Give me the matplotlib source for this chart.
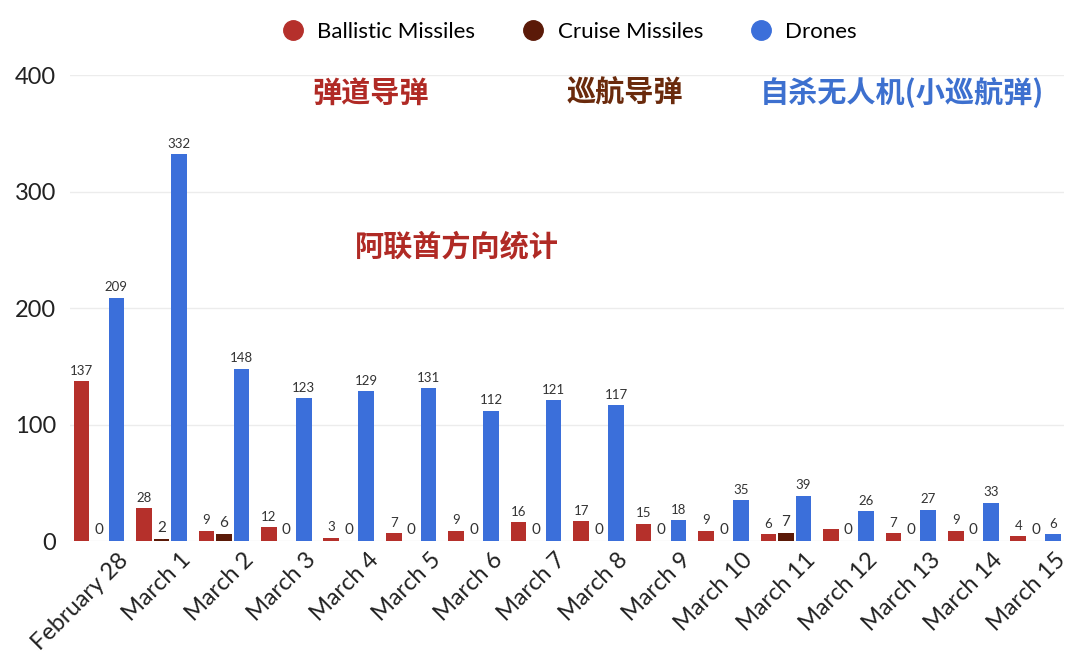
import matplotlib
matplotlib.use("Agg")
import matplotlib.pyplot as plt
import numpy as np
from matplotlib.lines import Line2D

plt.rcParams["font.family"] = ["Lato", "Noto Sans CJK SC", "DejaVu Sans"]

dates = ["February 28", "March 1", "March 2", "March 3", "March 4", "March 5", "March 6",
         "March 7", "March 8", "March 9", "March 10", "March 11", "March 12", "March 13",
         "March 14", "March 15"]
ballistic = [137, 28, 9, 12, 3, 7, 9, 16, 17, 15, 9, 6, 10, 7, 9, 4]
cruise = [0, 2, 6, 0, 0, 0, 0, 0, 0, 0, 0, 7, 0, 0, 0, 0]
drones = [209, 332, 148, 123, 129, 131, 112, 121, 117, 18, 35, 39, 26, 27, 33, 6]
# the reference shows no value label over March 12 ballistic bar
ballistic_labels = [str(v) for v in ballistic]
ballistic_labels[12] = ""

RED, BROWN, BLUE = "#B5302B", "#5B1A08", "#3B6FDA"

fig = plt.figure(figsize=(10.8, 6.7), dpi=100)
ax = fig.add_axes([0.065, 0.1925, 0.92, 0.6955])
x = np.arange(len(dates))
w, off = 0.25, 0.28
b1 = ax.bar(x - off, ballistic, w, color=RED, zorder=3)
b2 = ax.bar(x, cruise, w, color=BROWN, zorder=3)
b3 = ax.bar(x + off, drones, w, color=BLUE, zorder=3)
ax.bar_label(b1, labels=ballistic_labels, padding=3, fontsize=9.5, color="#333333")
ax.bar_label(b2, padding=3, fontsize=11, color="#333333")
ax.bar_label(b3, padding=3, fontsize=9.5, color="#333333")

ax.set_xlim(-0.46, 15.45)
ax.set_ylim(0, 400)
ax.set_yticks([0, 100, 200, 300, 400])
ax.grid(axis="y", color="#ececec", lw=1, zorder=0)
for s in ax.spines.values():
    s.set_visible(False)
ax.tick_params(length=0, colors="#222222")
ax.tick_params(axis="y", labelsize=17, pad=10)
ax.tick_params(axis="x", pad=6)
ax.set_xticks(x + 0.3)
ax.set_xticklabels(dates, rotation=45, ha="right", rotation_mode="anchor", fontsize=17)

handles = [Line2D([], [], marker="o", ls="", color=c, markersize=14) for c in (RED, BROWN, BLUE)]
fig.legend(handles, ["Ballistic Missiles", "Cruise Missiles", "Drones"], loc="center",
           bbox_to_anchor=(0.522, 0.952), ncol=3, frameon=False, fontsize=16,
           handletextpad=0.1, columnspacing=1.6)

fig.text(0.343, 0.862, "弹道导弹", color="#B02A25", fontsize=21, fontweight="bold",
         ha="center", va="center", family=["Noto Sans CJK SC"])
fig.text(0.579, 0.862, "巡航导弹", color="#6A2A0C", fontsize=21, fontweight="bold",
         ha="center", va="center", family=["Noto Sans CJK SC"])
fig.text(0.835, 0.862, "自杀无人机(小巡航弹)", color="#3D70CF", fontsize=21, fontweight="bold",
         ha="center", va="center", family=["Noto Sans CJK SC"])
fig.text(0.423, 0.633, "阿联酋方向统计", color="#B02A25", fontsize=21, fontweight="bold",
         ha="center", va="center", family=["Noto Sans CJK SC"])

fig.savefig("out.png", dpi=100, facecolor="white")
